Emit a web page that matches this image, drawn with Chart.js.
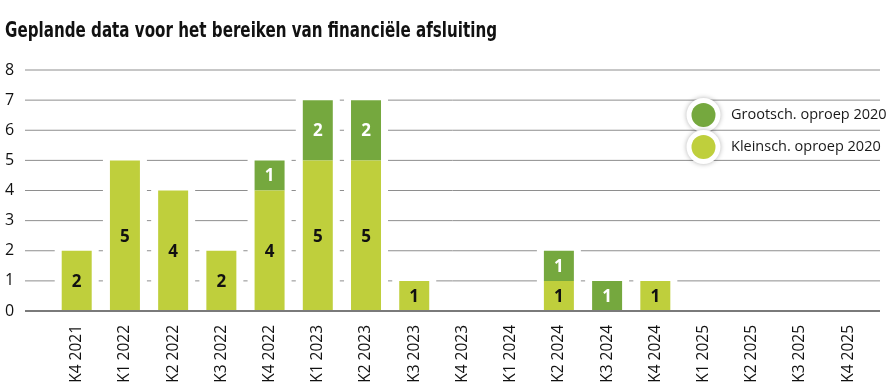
<!DOCTYPE html>
<html>
<head>
<meta charset="utf-8">
<script src="https://cdn.jsdelivr.net/npm/chart.js@4.4.0/dist/chart.umd.min.js"></script>
<style>
  html, body { margin: 0; padding: 0; background: #fff; }
  #wrap { width: 894px; height: 390px; position: relative; }
</style>
</head>
<body>
<div id="wrap"><canvas id="chart" width="894" height="390"></canvas></div>
<script>
"use strict";

const TITLE = "Geplande data voor het bereiken van financiële afsluiting";
const QUARTERS = [
  "K4 2021", "K1 2022", "K2 2022", "K3 2022", "K4 2022",
  "K1 2023", "K2 2023", "K3 2023", "K4 2023",
  "K1 2024", "K2 2024", "K3 2024", "K4 2024",
  "K1 2025", "K2 2025", "K3 2025", "K4 2025",
];
const SMALL_CALL = [2, 5, 4, 2, 4, 5, 5, 1, null, null, 1, null, 1, null, null, null, null];
const LARGE_CALL = [null, null, null, null, 1, 2, 2, null, null, null, 1, 1, null, null, null, null, null];
const Y_MAX = 8;

const LIGHT = "#bfcf3c";
const DARK = "#75a83e";
const FONT = "'Open Sans', 'DejaVu Sans', sans-serif";
const TITLE_FONT = "'DejaVu Sans Condensed', 'Open Sans', sans-serif";

const GRID_LEFT = 25;
const GRID_RIGHT = 880;
const TITLE_WIDTH = 492;

const decorations = {
  id: "decorations",
  beforeDatasetsDraw(chart) {
    const ctx = chart.ctx;
    const y = chart.scales.y;
    ctx.save();
    ctx.strokeStyle = "#8e8e8e";
    ctx.lineWidth = 1;
    for (let v = 1; v <= Y_MAX; v++) {
      const py = y.getPixelForValue(v);
      ctx.beginPath();
      ctx.moveTo(GRID_LEFT, py);
      ctx.lineTo(GRID_RIGHT, py);
      ctx.stroke();
    }
    // white halo around each stacked bar
    const base = y.getPixelForValue(0);
    ctx.fillStyle = "#fff";
    QUARTERS.forEach((_, i) => {
      let top = null;
      let el = null;
      chart.data.datasets.forEach((ds, d) => {
        if (ds.data[i] == null) return;
        const bar = chart.getDatasetMeta(d).data[i];
        el = bar;
        top = top === null ? bar.y : Math.min(top, bar.y);
      });
      if (el) {
        ctx.fillRect(el.x - el.width / 2 - 7, top - 2, el.width + 14, base - top + 1);
      }
    });
    ctx.restore();
  },
  afterDatasetsDraw(chart) {
    const ctx = chart.ctx;
    const y0 = chart.scales.y.getPixelForValue(0);
    ctx.save();
    ctx.strokeStyle = "#7a7a7a";
    ctx.lineWidth = 2;
    ctx.beginPath();
    ctx.moveTo(GRID_LEFT, y0);
    ctx.lineTo(GRID_RIGHT, y0);
    ctx.stroke();

    ctx.font = "bold 17px " + FONT;
    ctx.textAlign = "center";
    ctx.textBaseline = "middle";
    chart.data.datasets.forEach((ds, d) => {
      const meta = chart.getDatasetMeta(d);
      ctx.fillStyle = ds.labelColor;
      meta.data.forEach((bar, i) => {
        if (ds.data[i] == null) return;
        ctx.fillText(String(ds.data[i]), bar.x, (bar.y + bar.base) / 2 + 1);
      });
    });
    ctx.restore();
  },
  afterDraw(chart) {
    const ctx = chart.ctx;
    ctx.save();
    ctx.fillStyle = "#111";
    ctx.font = "bold 21px " + TITLE_FONT;
    ctx.textAlign = "left";
    ctx.textBaseline = "alphabetic";
    const w = ctx.measureText(TITLE).width;
    const sx = Math.min(1, TITLE_WIDTH / w);
    ctx.translate(5, 37);
    ctx.scale(sx, 1);
    ctx.fillText(TITLE, 0, 0);
    ctx.restore();

    // legend, largest call first
    ctx.save();
    const items = chart.data.datasets.slice().reverse();
    items.forEach((ds, k) => {
      const cx = 703.5;
      const cy = 115 + k * 32;
      ctx.save();
      ctx.shadowColor = "rgba(0,0,0,0.3)";
      ctx.shadowBlur = 5;
      ctx.fillStyle = "#fff";
      ctx.beginPath();
      ctx.arc(cx, cy, 17, 0, Math.PI * 2);
      ctx.fill();
      ctx.restore();
      ctx.fillStyle = ds.backgroundColor;
      ctx.beginPath();
      ctx.arc(cx, cy, 12, 0, Math.PI * 2);
      ctx.fill();
      ctx.fillStyle = "#1a1a1a";
      ctx.font = "14.5px " + FONT;
      ctx.textBaseline = "middle";
      ctx.fillText(ds.label, 731, cy);
    });
    ctx.restore();
  },
};

new Chart(document.getElementById("chart"), {
  type: "bar",
  data: {
    labels: QUARTERS,
    datasets: [
      { label: "Kleinsch. oproep 2020", data: SMALL_CALL, backgroundColor: LIGHT, labelColor: "#111" },
      { label: "Grootsch. oproep 2020", data: LARGE_CALL, backgroundColor: DARK, labelColor: "#fff" },
    ],
  },
  options: {
    responsive: false,
    animation: false,
    devicePixelRatio: 1,
    layout: { padding: { top: 70, left: 5, right: 21.7, bottom: 0 } },
    datasets: { bar: { barPercentage: 0.622, categoryPercentage: 1, borderWidth: 0 } },
    plugins: { legend: { display: false }, tooltip: { enabled: false }, title: { display: false } },
    scales: {
      x: {
        stacked: true,
        grid: { display: false },
        border: { display: false },
        ticks: {
          autoSkip: false, maxRotation: 90, minRotation: 90, padding: 6,
          color: "#111", font: { family: FONT, size: 15.5 },
        },
        afterFit(scale) { scale.height = 79; },
      },
      y: {
        stacked: true,
        min: 0, max: Y_MAX,
        grid: { display: false },
        border: { display: false },
        ticks: {
          stepSize: 1, crossAlign: "far", padding: 0,
          color: "#111", font: { family: FONT, size: 16 },
        },
        afterFit(scale) { scale.width = 47.6; },
      },
    },
  },
  plugins: [decorations],
});
</script>
</body>
</html>
